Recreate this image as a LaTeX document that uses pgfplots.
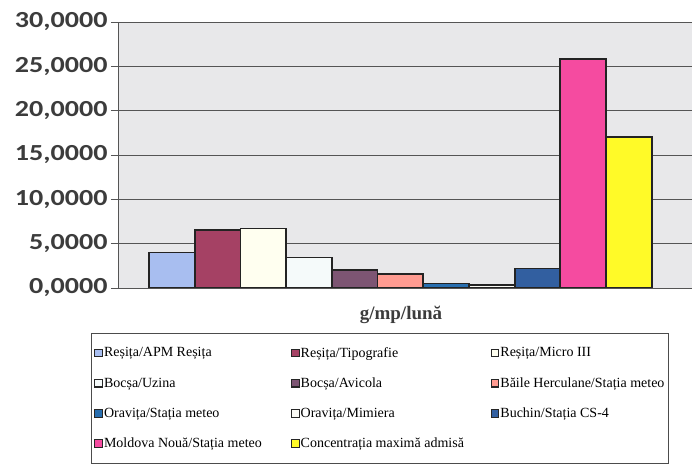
\documentclass[border=0pt]{standalone}
\usepackage{pgfplots}
\pgfplotsset{compat=1.18}
\usepackage{fontspec}
\setmainfont{Liberation Serif}
\newfontfamily\tickfont[FakeStretch=1.22]{Carlito}
\definecolor{c1}{RGB}{168,190,240}
\definecolor{c2}{RGB}{165,65,100}
\definecolor{c3}{RGB}{255,255,240}
\definecolor{c4}{RGB}{245,250,250}
\definecolor{c5}{RGB}{125,85,115}
\definecolor{c6}{RGB}{255,155,145}
\definecolor{c7}{RGB}{40,110,175}
\definecolor{c8}{RGB}{250,250,245}
\definecolor{c9}{RGB}{50,95,160}
\definecolor{c10}{RGB}{245,75,160}
\definecolor{c11}{RGB}{255,250,40}
\definecolor{plotbg}{RGB}{232,232,234}
\definecolor{gridc}{RGB}{85,85,85}
\definecolor{barline}{RGB}{35,35,35}
\definecolor{tickc}{RGB}{60,60,60}
\newcommand{\ca}[1]{\makebox[186pt][l]{#1}}
\newcommand{\cb}[1]{\makebox[189pt][l]{#1}}
\newcommand{\cc}[1]{\makebox[164pt][l]{#1}}
\begin{document}
\begin{tikzpicture}
\useasboundingbox (-118pt,-177pt) rectangle (576pt,288pt);
\begin{axis}[
  at={(0pt,0pt)}, anchor=south west,
  scale only axis, width=574pt, height=266pt,
  xmin=-0.492, xmax=0.508, ymin=0, ymax=30,
  xtick=\empty,
  ytick={0,5,...,30},
  axis lines=left, axis line style={-, draw=gridc, line width=0.9pt},
  axis background/.style={fill=plotbg},
  ymajorgrids, grid style={draw=gridc, line width=0.9pt},
  tick align=outside, ytick pos=left, major tick length=7pt,
  tick style={draw=gridc, line width=0.9pt},
  yticklabel style={font=\tickfont\bfseries\fontsize{23}{23}\selectfont, text=tickc,
    /pgf/number format/.cd, fixed, fixed zerofill, precision=4, use comma, 1000 sep={}, assume math mode=true},
  xlabel={g/mp/lună},
  xlabel style={font=\bfseries\fontsize{19}{19}\selectfont, text=tickc, at={(axis description cs:0.493,-0.1)}, anchor=center},
  ybar=0pt, bar width=45.7pt,
  legend columns=3,
  legend cell align=left,
  legend style={at={(axis description cs:-0.047,-0.169)}, anchor=north west,
    draw=black!70, line width=0.6pt, fill=white, font=\fontsize{14}{14}\selectfont,
    inner xsep=3pt, inner ysep=12pt, row sep=15pt,
    /tikz/every even column/.append style={column sep=0pt},
    nodes={inner xsep=1pt}},
  legend image code/.code={\draw[#1, line width=1.1pt, draw=black!85] (0pt,-3.8pt) rectangle (7.6pt,3.8pt);},
]
\addplot[fill=c1, draw=barline, line width=1.8pt] coordinates {(0,4.0)};
\addlegendentry{\ca{Reșița/APM Reșița}}
\addplot[fill=c2, draw=barline, line width=1.8pt] coordinates {(0,6.55)};
\addlegendentry{\cb{Reșița/Tipografie}}
\addplot[fill=c3, draw=barline, line width=1.8pt] coordinates {(0,6.7)};
\addlegendentry{\cc{Reșița/Micro III}}
\addplot[fill=c4, draw=barline, line width=1.8pt] coordinates {(0,3.45)};
\addlegendentry{\ca{Bocșa/Uzina}}
\addplot[fill=c5, draw=barline, line width=1.8pt] coordinates {(0,2.0)};
\addlegendentry{\cb{Bocșa/Avicola}}
\addplot[fill=c6, draw=barline, line width=1.8pt] coordinates {(0,1.6)};
\addlegendentry{\cc{Băile Herculane/Stația meteo}}
\addplot[fill=c7, draw=barline, line width=1.8pt] coordinates {(0,0.5)};
\addlegendentry{\ca{Oravița/Stația meteo}}
\addplot[fill=c8, draw=barline, line width=1.8pt] coordinates {(0,0.3)};
\addlegendentry{\cb{Oravița/Mimiera}}
\addplot[fill=c9, draw=barline, line width=1.8pt] coordinates {(0,2.2)};
\addlegendentry{\cc{Buchin/Stația CS-4}}
\addplot[fill=c10, draw=barline, line width=1.8pt] coordinates {(0,25.8)};
\addlegendentry{\ca{Moldova Nouă/Stația meteo}}
\addplot[fill=c11, draw=barline, line width=1.8pt] coordinates {(0,17.0)};
\addlegendentry{\cb{Concentrația maximă admisă}}
\end{axis}
\end{tikzpicture}
\end{document}
